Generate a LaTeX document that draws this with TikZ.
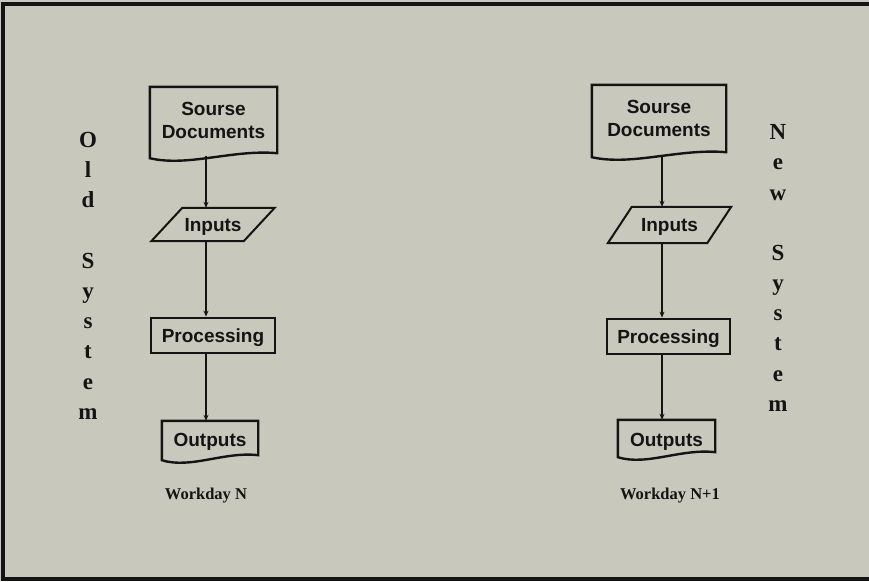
\documentclass[tikz,border=0pt]{standalone}
\usepackage{fontspec}
\setmainfont{Liberation Serif}
\setsansfont{Liberation Sans}
\usetikzlibrary{calc,arrows.meta}
\definecolor{paper}{RGB}{201,200,189}
\definecolor{ink}{RGB}{20,20,20}

% document symbol: straight top and sides, wavy bottom edge
\newcommand\docoutline[1]{%
  \draw[boxline] ([yshift=-5pt]#1.south west) -- (#1.north west) -- (#1.north east) -- (#1.south east)
    .. controls ($(#1.south east)!0.35!(#1.south west)+(0pt,4pt)$)
       and ($(#1.south east)!0.7!(#1.south west)+(0pt,-14pt)$)
    .. ([yshift=-5pt]#1.south west) -- cycle;}
% input/output symbol: parallelogram leaning right
\newcommand\iooutline[2]{%
  \draw[ioline] ([xshift=#2]#1.north west) -- ([xshift=#2]#1.north east)
    -- ([xshift=-#2]#1.south east) -- ([xshift=-#2]#1.south west) -- cycle;}

\begin{document}
\begin{tikzpicture}[x=1pt,y=-1pt,
  boxfont/.style={font=\sffamily\bfseries\fontsize{19}{23}\selectfont, text=ink},
  capline/.style={text height=13.7pt, text depth=0pt},
  shapebox/.style={boxfont, draw=none, align=center, inner sep=0pt},
  procbox/.style={boxfont, capline, draw=ink, line width=2.8pt, inner sep=0pt},
  boxline/.style={draw=ink, line width=2.4pt, line join=miter},
  ioline/.style={draw=ink, line width=2pt, line join=miter},
  flow/.style={draw=ink, line width=1.3pt, -{Stealth[length=6pt,width=5pt]}},
  sidefont/.style={font=\bfseries\fontsize{23}{30.2}\selectfont, text=ink, align=center, inner sep=0pt, anchor=north},
  dayfont/.style={font=\bfseries\fontsize{16.5}{20}\selectfont, text=ink, inner sep=0pt, text height=11pt, text depth=0pt},
  frame/.style={draw=ink, line width=3.2pt}
]
\useasboundingbox (0,0) rectangle (869,581);
\fill[paper] (0,0) rectangle (869,581);

% outer frame (open on the right)
\draw[frame] (869,4) -- (3,4) -- (3,579) -- (869,579);

% ---- old system ----
\node[shapebox, minimum width=127pt, minimum height=66pt] (src1) at (213.5,120) {Sourse\\Documents};
\docoutline{src1}
\node[shapebox, capline, minimum width=92pt, minimum height=33pt] (in1) at (213,224.5) {Inputs};
\iooutline{in1}{15.5pt}
\node[procbox, minimum width=124pt, minimum height=35pt] (proc1) at (213,335.5) {Processing};
\node[shapebox, text height=17.7pt, text depth=0pt, minimum width=96pt, minimum height=34pt] (out1) at (210,438) {Outputs};
\docoutline{out1}
\node[dayfont] (day1) at (206,493.5) {Workday N};

\coordinate (axL) at (206,0);
\coordinate (src1b) at ([yshift=-3pt]src1.south);
\draw[flow] (src1b -| axL) -- (in1.north -| axL);
\draw[flow] (in1.south -| axL) -- (proc1.north -| axL);
\draw[flow] (proc1.south -| axL) -- (out1.north -| axL);

\node[sidefont] (oldsys) at (88,132) {O\\l\\d\\[30.2pt]S\\y\\s\\t\\e\\m};

% ---- new system ----
\node[shapebox, minimum width=134pt, minimum height=67pt] (src2) at (659,118.5) {Sourse\\Documents};
\docoutline{src2}
\node[shapebox, capline, minimum width=99pt, minimum height=36pt] (in2) at (669.5,225) {Inputs};
\iooutline{in2}{12pt}
\node[procbox, minimum width=123pt, minimum height=35pt] (proc2) at (668.5,336.5) {Processing};
\node[shapebox, text height=20.7pt, text depth=0pt, minimum width=97pt, minimum height=32pt] (out2) at (666.5,436) {Outputs};
\docoutline{out2}
\node[dayfont] (day2) at (670,493.5) {Workday N+1};

\coordinate (axR) at (662,0);
\coordinate (src2b) at ([yshift=-3pt]src2.south);
\draw[flow] (src2b -| axR) -- (in2.north -| axR);
\draw[flow] (in2.south -| axR) -- (proc2.north -| axR);
\draw[flow] (proc2.south -| axR) -- (out2.north -| axR);

\node[sidefont] (newsys) at (778,124.5) {N\\e\\w\\[30pt]S\\y\\s\\t\\e\\m};
\end{tikzpicture}
\end{document}
